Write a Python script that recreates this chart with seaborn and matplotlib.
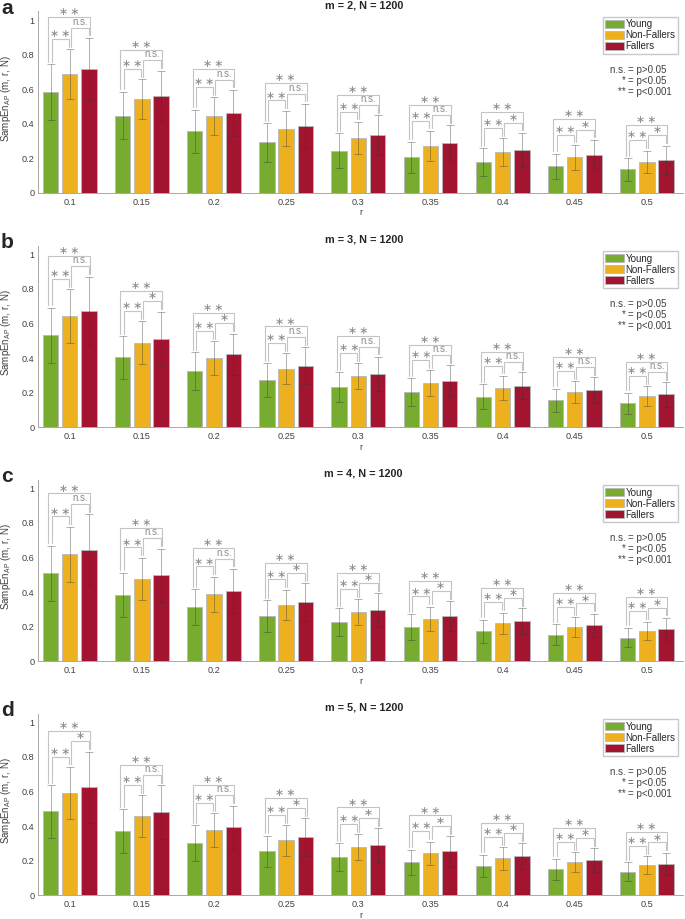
import numpy as np
import pandas as pd
import matplotlib
matplotlib.use("Agg")
import matplotlib.pyplot as plt
import seaborn as sns

# ---------------- data ----------------
r_labels = ['0.1', '0.15', '0.2', '0.25', '0.3', '0.35', '0.4', '0.45', '0.5']
groups = ['Young', 'Non-Fallers', 'Fallers']
colors = ['#77AC30', '#EDB120', '#A2142F']

# panel a, m = 2
a_young = [0.583, 0.447, 0.357, 0.292, 0.245, 0.207, 0.178, 0.155, 0.136]
a_nonfallers = [0.688, 0.541, 0.443, 0.372, 0.317, 0.271, 0.236, 0.206, 0.180]
a_fallers = [0.717, 0.561, 0.461, 0.389, 0.333, 0.288, 0.251, 0.221, 0.193]
a_young_sd = [0.161, 0.137, 0.125, 0.112, 0.101, 0.090, 0.081, 0.073, 0.065]
a_nonfallers_sd = [0.143, 0.116, 0.110, 0.103, 0.093, 0.087, 0.080, 0.071, 0.065]
a_fallers_sd = [0.179, 0.146, 0.134, 0.125, 0.115, 0.103, 0.096, 0.085, 0.081]
a_sig = [['**', 'n.s.', '**'], ['**', 'n.s.', '**'], ['**', 'n.s.', '**'],
         ['**', 'n.s.', '**'], ['**', 'n.s.', '**'], ['**', 'n.s.', '**'],
         ['**', '*', '**'], ['**', '*', '**'], ['**', '*', '**']]

# panel b, m = 3
b_young = [0.531, 0.404, 0.325, 0.273, 0.233, 0.202, 0.177, 0.156, 0.138]
b_nonfallers = [0.642, 0.490, 0.400, 0.338, 0.294, 0.256, 0.227, 0.202, 0.181]
b_fallers = [0.673, 0.513, 0.421, 0.356, 0.308, 0.269, 0.240, 0.213, 0.190]
b_young_sd = [0.161, 0.123, 0.108, 0.096, 0.084, 0.081, 0.071, 0.065, 0.060]
b_nonfallers_sd = [0.156, 0.122, 0.098, 0.089, 0.075, 0.073, 0.069, 0.063, 0.056]
b_fallers_sd = [0.198, 0.156, 0.121, 0.107, 0.098, 0.089, 0.077, 0.075, 0.070]
b_sig = [['**', 'n.s.', '**'], ['**', '*', '**'], ['**', '*', '**'],
         ['**', 'n.s.', '**'], ['**', 'n.s.', '**'], ['**', 'n.s.', '**'],
         ['**', 'n.s.', '**'], ['**', 'n.s.', '**'], ['**', 'n.s.', '**']]

# panel c, m = 4
c_young = [0.508, 0.385, 0.312, 0.262, 0.225, 0.196, 0.173, 0.154, 0.137]
c_nonfallers = [0.619, 0.475, 0.387, 0.327, 0.283, 0.244, 0.219, 0.196, 0.175]
c_fallers = [0.646, 0.496, 0.406, 0.342, 0.296, 0.262, 0.231, 0.208, 0.185]
c_young_sd = [0.159, 0.127, 0.105, 0.090, 0.081, 0.075, 0.067, 0.059, 0.057]
c_nonfallers_sd = [0.158, 0.123, 0.101, 0.086, 0.075, 0.071, 0.062, 0.058, 0.054]
c_fallers_sd = [0.204, 0.156, 0.127, 0.108, 0.096, 0.084, 0.075, 0.067, 0.065]
c_sig = [['**', 'n.s.', '**'], ['**', 'n.s.', '**'], ['**', 'n.s.', '**'],
         ['**', '*', '**'], ['**', '*', '**'], ['**', '*', '**'],
         ['**', '*', '**'], ['**', '*', '**'], ['**', '*', '**']]

# panel d, m = 5
d_young = [0.485, 0.371, 0.302, 0.254, 0.221, 0.190, 0.169, 0.150, 0.135]
d_nonfallers = [0.592, 0.458, 0.375, 0.317, 0.277, 0.242, 0.213, 0.190, 0.173]
d_fallers = [0.625, 0.481, 0.394, 0.335, 0.290, 0.254, 0.227, 0.202, 0.183]
d_young_sd = [0.152, 0.125, 0.102, 0.090, 0.079, 0.073, 0.066, 0.060, 0.055]
d_nonfallers_sd = [0.150, 0.119, 0.098, 0.087, 0.075, 0.068, 0.064, 0.058, 0.052]
d_fallers_sd = [0.206, 0.154, 0.125, 0.109, 0.098, 0.088, 0.073, 0.069, 0.063]
d_sig = [['**', '*', '**'], ['**', 'n.s.', '**'], ['**', 'n.s.', '**'],
         ['**', '*', '**'], ['**', '*', '**'], ['**', '*', '**'],
         ['**', '*', '**'], ['**', '*', '**'], ['**', '*', '**']]

panels = [
    ('a', 2, [a_young, a_nonfallers, a_fallers], [a_young_sd, a_nonfallers_sd, a_fallers_sd], a_sig),
    ('b', 3, [b_young, b_nonfallers, b_fallers], [b_young_sd, b_nonfallers_sd, b_fallers_sd], b_sig),
    ('c', 4, [c_young, c_nonfallers, c_fallers], [c_young_sd, c_nonfallers_sd, c_fallers_sd], c_sig),
    ('d', 5, [d_young, d_nonfallers, d_fallers], [d_young_sd, d_nonfallers_sd, d_fallers_sd], d_sig),
]

# ---------------- style ----------------
sns.set_style('white')
plt.rcParams['font.family'] = ['Liberation Sans', 'DejaVu Sans']
plt.rcParams['mathtext.default'] = 'regular'

W, H = 685, 919
fig = plt.figure(figsize=(W / 100, H / 100), dpi=100)

ax_left = 38 / W
ax_width = (683 - 38) / W
ax_height = (193 - 11.35) / H
zero_px = [193, 427.3, 661.3, 895.3]

gray_txt = '#404040'
bracket_col = '#c4c4c4'
star_col = '#8a8a8a'

for (letter, m, means, sds, sig), zp in zip(panels, zero_px):
    ax = fig.add_axes([ax_left, (H - zp) / H, ax_width, ax_height])
    rows = []
    for g, vals in zip(groups, means):
        for r, v in zip(r_labels, vals):
            rows.append({'r': r, 'group': g, 'value': v})
    df = pd.DataFrame(rows)
    sns.barplot(data=df, x='r', y='value', hue='group', order=r_labels, hue_order=groups,
                palette=colors, errorbar=None, gap=0.2, width=0.8, saturation=1,
                edgecolor='#b8b8b8', linewidth=0.6, ax=ax)

    # bar centres / heights from the drawn bars
    xs = np.zeros((3, len(r_labels)))
    hs = np.zeros((3, len(r_labels)))
    for gi, cont in enumerate(ax.containers[:3]):
        for i, bar in enumerate(cont):
            xs[gi, i] = bar.get_x() + bar.get_width() / 2
            hs[gi, i] = bar.get_height()
    sd_arr = np.array(sds)
    for gi in range(3):
        ax.errorbar(xs[gi], hs[gi], yerr=sd_arr[gi], fmt='none',
                    ecolor=(0.2, 0.2, 0.2, 0.38), elinewidth=0.7, capsize=3.0, capthick=0.7, zorder=4)

    # significance brackets
    d = 0.06
    gp = 0.015
    for i in range(len(r_labels)):
        T = hs[:, i] + sd_arr[:, i]
        xy, xn, xf = xs[0, i], xs[1, i], xs[2, i]
        h1 = max(T[0], T[1]) + d
        h2 = max(T[1], T[2]) + d
        h3 = max(h1, h2) + d
        specs = [((xy + 0.015, xn - 0.015), (T[0], T[1]), h1, sig[i][0]),
                 ((xn + 0.015, xf), (T[1], T[2]), h2, sig[i][1]),
                 ((xy - 0.03, xf + 0.015), (T[0], T[2]), h3, sig[i][2])]
        for (x1, x2), (t1, t2), h, lab in specs:
            ax.plot([x1, x1, x2, x2], [t1 + gp, h, h, t2 + gp], color=bracket_col,
                    lw=0.8, zorder=3, solid_joinstyle='miter')
            xm = (x1 + x2) / 2
            if lab == 'n.s.':
                ax.text(xm, h + 0.005, 'n.s.', ha='center', va='bottom', fontsize=7,
                        color=star_col)
            else:
                txt = '\u2217\u2009\u2217' if lab == '**' else '\u2217'
                ax.text(xm, h + 0.028, txt, ha='center', va='center', fontsize=7.8,
                        color=star_col, family=['DejaVu Sans'])

    ax.set_ylim(0, 1.05)
    ax.set_xlim(-0.44, 8.5)
    ax.set_yticks([0, 0.2, 0.4, 0.6, 0.8, 1])
    ax.set_yticklabels(['0', '0.2', '0.4', '0.6', '0.8', '1'])
    ax.tick_params(axis='both', direction='in', length=2.5, width=0.6, color='#9a9a9a',
                   labelsize=6.6, labelcolor=gray_txt, pad=3.5)
    ax.tick_params(axis='y', pad=2.5)
    for s in ['top', 'right']:
        ax.spines[s].set_visible(False)
    for s in ['left', 'bottom']:
        ax.spines[s].set_color('#a8a8a8')
        ax.spines[s].set_linewidth(0.7)
    ax.set_xlabel('r', fontsize=6.6, color=gray_txt, labelpad=1.0)
    ax.set_ylabel('SampEn$_{AP}$ (m, r, N)', fontsize=7, color=gray_txt)
    ax.yaxis.set_label_coords(-0.038, 0.52)
    ax.set_title(f'm = {m}, N = 1200', fontsize=7.8, fontweight='bold', pad=2.0, x=0.505)

    ax.legend(loc='upper right', bbox_to_anchor=(0.992, 0.969), frameon=True, fontsize=7,
              handlelength=1.9, handleheight=0.9, handletextpad=0.15, labelspacing=0.1,
              borderpad=0.25, borderaxespad=0, fancybox=False, edgecolor='#c8c8c8',
              framealpha=1, title=None)

    # significance key
    xk = 0.915
    for yk, left, right in [(0.677, 'n.s. ', '= p>0.05'), (0.617, '* ', '= p<0.05'),
                            (0.556, '** ', '= p<0.001')]:
        ax.text(xk, yk, left, ha='right', va='center', fontsize=7, color=gray_txt,
                transform=ax.transAxes)
        ax.text(xk, yk, right, ha='left', va='center', fontsize=7, color=gray_txt,
                transform=ax.transAxes)

    # panel letter
    fig.text(1 / W, 1 - (zp - 193 + 13.5) / H, letter, fontsize=15, fontweight='bold',
             ha='left', va='baseline', family=['Liberation Sans'])

fig.savefig('out.png', dpi=100)
